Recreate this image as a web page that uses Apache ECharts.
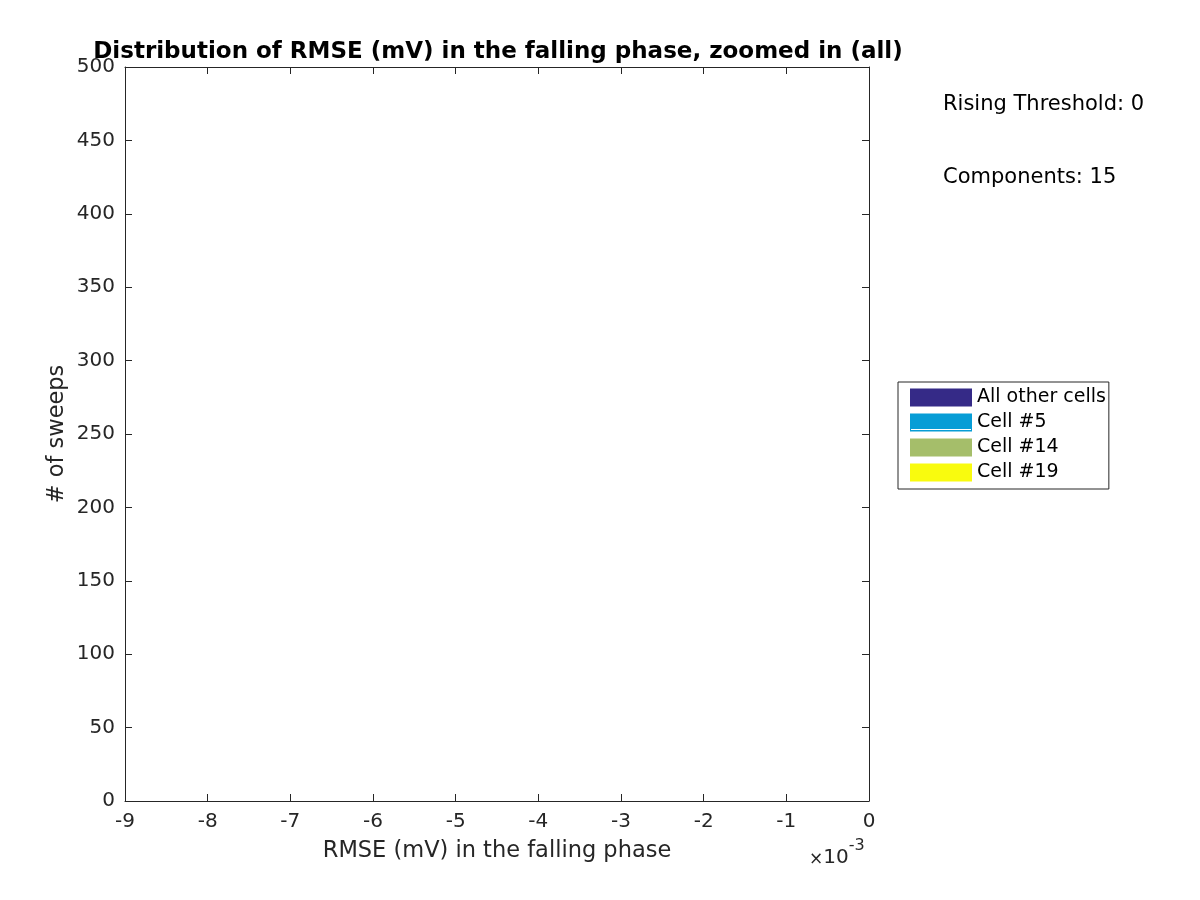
<!DOCTYPE html>
<html><head><meta charset="utf-8">
<script src="https://cdn.jsdelivr.net/npm/echarts@6/dist/echarts.min.js"></script>
<style>html,body{margin:0;padding:0;background:#fff}#c{width:1200px;height:900px}</style>
</head><body><div id="c"></div>
<script>
const titleText = 'Distribution of RMSE (mV) in the falling phase, zoomed in (all)';
const xLabel = 'RMSE (mV) in the falling phase';
const yLabel = '# of sweeps';
const xMin = -9, xMax = 0, xStep = 1;   // in units of 1e-3 mV
const yMin = 0, yMax = 500, yStep = 50;
const seriesNames = ['All other cells', 'Cell #5', 'Cell #14', 'Cell #19'];
const seriesColors = ['#352a87', '#079dd6', '#a5be6a', '#f9fb0e'];
const seriesValues = [[], [], [], []];
const annotations = ['Rising Threshold: 0', 'Components: 15'];

const F = 'DejaVu Sans';
const TC = '#262626';
const chart = echarts.init(document.getElementById('c'), null, {renderer: 'canvas'});
const axisCommon = {
  axisLine: {show: true, onZero: false, lineStyle: {color: TC, width: 1}},
  axisTick: {show: true, inside: true, length: 7, lineStyle: {color: TC}},
  splitLine: {show: false}
};
chart.setOption({
  animation: false,
  backgroundColor: '#fff',
  title: {
    text: titleText, left: 493, textAlign: 'center', top: 36,
    textStyle: {fontFamily: F, fontSize: 23, fontWeight: 'bold', color: '#000'}
  },
  grid: {left: 125, right: 331, top: 67, bottom: 99, containLabel: false},
  legend: {
    data: seriesNames, orient: 'vertical', left: 898, top: 382,
    itemWidth: 62, itemHeight: 18, itemGap: 6, icon: 'rect',
    padding: [6, 3, 7, 12], borderColor: '#262626', borderWidth: 1,
    textStyle: {fontFamily: F, fontSize: 19, color: '#000'},
    selectedMode: false
  },
  xAxis: [
    Object.assign({type: 'value', min: xMin, max: xMax, interval: xStep, position: 'bottom',
      name: xLabel, nameLocation: 'middle', nameGap: 39, nameMoveOverlap: false,
      nameTextStyle: {fontFamily: F, fontSize: 22.5, color: TC},
      axisLabel: {fontFamily: F, fontSize: 20, color: TC, margin: 11}}, axisCommon),
    Object.assign({type: 'value', min: xMin, max: xMax, interval: xStep, position: 'top',
      axisLabel: {show: false}}, axisCommon)
  ],
  yAxis: [
    Object.assign({type: 'value', min: yMin, max: yMax, interval: yStep, position: 'left',
      name: yLabel, nameLocation: 'middle', nameGap: 56, nameRotate: 90, nameMoveOverlap: false,
      nameTextStyle: {fontFamily: F, fontSize: 22.5, color: TC},
      axisLabel: {fontFamily: F, fontSize: 20, color: TC, margin: 10}}, axisCommon),
    Object.assign({type: 'value', min: yMin, max: yMax, interval: yStep, position: 'right',
      axisLabel: {show: false}}, axisCommon)
  ],
  series: seriesNames.map((n, i) => ({
    name: n, type: 'bar', stack: 'h', barWidth: '100%',
    itemStyle: {color: seriesColors[i]},
    data: seriesValues[i]
  })),
  graphic: [
    {type: 'text', left: 943, top: 94, style: {text: annotations[0], font: '21px "DejaVu Sans"', fill: '#000'}},
    {type: 'text', left: 943, top: 167, style: {text: annotations[1], font: '21px "DejaVu Sans"', fill: '#000'}},
    {type: 'line', shape: {x1: 911, y1: 429.5, x2: 971, y2: 429.5}, style: {stroke: '#ffffff', lineWidth: 1}, z: 200},
    {type: 'text', left: 809, top: 838, style: {
      text: '{a|×}{b|10}{c|-3}',
      rich: {
        a: {fontFamily: F, fontSize: 17, fill: TC, verticalAlign: 'bottom'},
        b: {fontFamily: F, fontSize: 20, fill: TC, verticalAlign: 'bottom'},
        c: {fontFamily: F, fontSize: 16, fill: TC, verticalAlign: 'top', padding: [0, 0, 14, 0]}
      }}}
  ]
});
</script></body></html>
